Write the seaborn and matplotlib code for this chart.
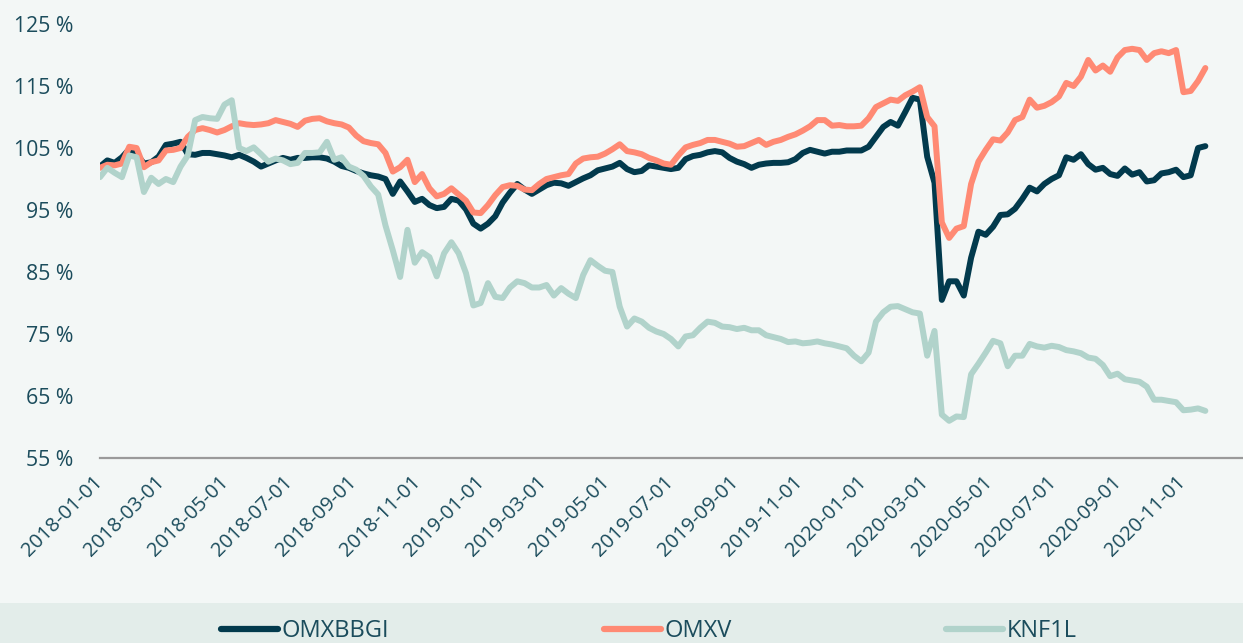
import matplotlib
matplotlib.use("Agg")
import matplotlib.pyplot as plt
from matplotlib.patches import Rectangle
import numpy as np
import pandas as pd
import seaborn as sns

# ---------------- data (weekly readings, index %) ----------------
start_date = "2018-01-01"
n_weeks = 152

omxbbgi = [
    102.0, 103.0, 102.6, 103.5, 104.8, 104.0, 102.5, 102.7, 103.6, 105.5,
    105.7, 106.0, 104.0, 103.9, 104.2, 104.2, 104.0, 103.8, 103.5, 103.9,
    103.4, 102.8, 102.0, 102.5, 103.0, 103.4, 103.1, 103.4, 103.4, 103.5,
    103.5, 103.3, 102.8, 102.1, 101.8, 101.3, 100.9, 100.6, 100.4, 100.0,
    97.6, 99.6, 98.0, 96.3, 96.8, 95.8, 95.3, 95.5, 96.8, 96.5,
    95.1, 92.8, 92.0, 92.8, 94.0, 96.2, 97.8, 99.2, 98.3, 97.6,
    98.3, 99.0, 99.4, 99.3, 98.9, 99.5, 100.1, 100.6, 101.4, 101.7,
    102.0, 102.6, 101.6, 101.1, 101.3, 102.2, 102.0, 101.8, 101.6, 101.8,
    103.2, 103.7, 103.9, 104.3, 104.5, 104.3, 103.4, 102.8, 102.4, 101.8,
    102.3, 102.5, 102.6, 102.6, 102.7, 103.2, 104.2, 104.7, 104.4, 104.1,
    104.4, 104.4, 104.6, 104.6, 104.6, 105.2, 106.8, 108.4, 109.2, 108.6,
    110.8, 113.1, 112.8, 103.6, 99.4, 80.5, 83.5, 83.5, 81.2, 87.3,
    91.5, 91.0, 92.3, 94.2, 94.3, 95.2, 96.8, 98.6, 98.0, 99.2,
    100.0, 100.6, 103.5, 103.1, 104.0, 102.4, 101.5, 101.8, 100.8, 100.5,
    101.7, 100.7, 101.1, 99.6, 99.8, 100.9, 101.1, 101.5, 100.3, 100.6,
    105.0, 105.3,
]

omxv = [
    101.8, 102.3, 102.2, 102.5, 105.2, 105.0, 101.9, 102.7, 103.0, 104.6,
    104.7, 105.0, 106.8, 107.9, 108.2, 107.9, 107.5, 107.9, 108.5, 109.0,
    108.8, 108.7, 108.8, 109.0, 109.5, 109.2, 108.9, 108.4, 109.4, 109.7,
    109.8, 109.3, 109.0, 108.8, 108.3, 107.0, 106.1, 105.8, 105.6, 104.2,
    101.2, 101.9, 103.1, 99.5, 100.8, 98.5, 97.2, 97.6, 98.5, 97.5,
    96.5, 94.6, 94.5, 95.8, 97.4, 98.7, 99.0, 98.9, 98.3, 98.2,
    99.2, 100.0, 100.3, 100.6, 100.8, 102.5, 103.3, 103.5, 103.6, 104.1,
    104.8, 105.6, 104.5, 104.3, 104.0, 103.4, 103.0, 102.5, 102.3, 103.8,
    105.1, 105.5, 105.8, 106.3, 106.3, 106.0, 105.7, 105.2, 105.3, 105.8,
    106.3, 105.5, 106.0, 106.3, 106.8, 107.2, 107.8, 108.5, 109.5, 109.5,
    108.6, 108.7, 108.5, 108.5, 108.6, 109.8, 111.6, 112.2, 112.8, 112.6,
    113.5, 114.1, 114.8, 110.0, 108.5, 93.0, 90.5, 92.0, 92.4, 99.2,
    102.8, 104.7, 106.4, 106.2, 107.5, 109.5, 110.0, 112.8, 111.5, 111.8,
    112.4, 113.3, 115.5, 115.0, 116.5, 119.2, 117.5, 118.3, 117.3, 119.6,
    120.8, 121.0, 120.8, 119.2, 120.3, 120.6, 120.3, 120.8, 114.0, 114.2,
    115.8, 117.9,
]

knf1l = [
    100.3, 101.8, 101.0, 100.3, 103.8, 103.5, 97.9, 100.2, 99.2, 100.0,
    99.5, 102.0, 103.8, 109.5, 110.0, 109.8, 109.7, 112.0, 112.7, 105.0,
    104.5, 105.1, 104.0, 102.8, 103.3, 103.0, 102.4, 102.6, 104.2, 104.2,
    104.3, 106.0, 103.1, 103.5, 102.0, 101.5, 100.5, 98.8, 97.5, 92.5,
    88.5, 84.2, 91.8, 86.5, 88.2, 87.4, 84.3, 88.0, 89.8, 88.0,
    84.8, 79.6, 80.0, 83.2, 81.0, 80.8, 82.5, 83.5, 83.2, 82.5,
    82.5, 82.9, 81.2, 82.4, 81.5, 80.8, 84.5, 86.9, 86.0, 85.2,
    85.0, 79.4, 76.2, 77.5, 77.0, 76.0, 75.4, 75.0, 74.2, 73.0,
    74.6, 74.8, 76.0, 77.0, 76.8, 76.2, 76.1, 75.8, 76.0, 75.6,
    75.6, 74.8, 74.5, 74.2, 73.7, 73.8, 73.5, 73.6, 73.8, 73.5,
    73.3, 73.0, 72.7, 71.5, 70.6, 72.0, 77.0, 78.5, 79.4, 79.5,
    79.0, 78.5, 78.3, 71.5, 75.5, 62.0, 61.0, 61.7, 61.6, 68.5,
    70.2, 72.0, 73.9, 73.5, 69.8, 71.5, 71.5, 73.4, 73.0, 72.8,
    73.1, 72.9, 72.4, 72.2, 71.9, 71.2, 71.0, 70.0, 68.2, 68.6,
    67.7, 67.5, 67.3, 66.5, 64.4, 64.4, 64.2, 64.0, 62.7, 62.8,
    63.0, 62.6,
]

series_names = ["OMXBBGI", "OMXV", "KNF1L"]
colors = ["#023a4d", "#ff8a74", "#b1d3cb"]
y_ticks = [55, 65, 75, 85, 95, 105, 115, 125]
x_tick_dates = pd.date_range("2018-01-01", "2020-11-01", freq="2MS")

dates = pd.date_range(start_date, periods=n_weeks, freq="7D")
df = pd.concat([
    pd.DataFrame({"date": dates, "value": vals, "series": name})
    for name, vals in zip(series_names, [omxbbgi, omxv, knf1l])
], ignore_index=True)

# ---------------- style ----------------
sns.set_theme(style="white")
plt.rcParams["font.family"] = ["Open Sans", "DejaVu Sans"]
bg = "#f3f7f6"
txt = "#1b4c5c"

W, H = 1243, 643
fig = plt.figure(figsize=(W / 100, H / 100), dpi=100, facecolor=bg)
fig.patches.append(Rectangle((0, 0), 1, 40 / H, transform=fig.transFigure,
                             facecolor="#e3edea", edgecolor="none", zorder=0))

ax = fig.add_axes([100 / W, (H - 458) / H, 1143 / W, (458 - 24) / H])
ax.set_facecolor(bg)

sns.lineplot(data=df, x="date", y="value", hue="series", hue_order=series_names,
             palette=colors, linewidth=4.3, estimator=None, sort=False, ax=ax,
             legend=True)
for line in ax.get_lines():
    line.set_solid_joinstyle("round")
    line.set_solid_capstyle("round")

ax.set_ylim(55, 125)
ax.set_xlim(pd.Timestamp("2018-01-01"), pd.Timestamp("2020-12-29"))
ax.set_yticks(y_ticks)
ax.set_yticklabels([f"{v} %" for v in y_ticks])
ax.set_xticks(x_tick_dates)
ax.set_xticklabels([d.strftime("%Y-%m-%d") for d in x_tick_dates])
ax.set_xlabel("")
ax.set_ylabel("")

for s in ["top", "right", "left"]:
    ax.spines[s].set_visible(False)
ax.spines["bottom"].set_color("#9a9a9a")
ax.spines["bottom"].set_linewidth(1.6)

ax.tick_params(axis="y", length=0, pad=19, labelsize=15.3, labelcolor=txt)
ax.tick_params(axis="x", length=0, pad=15, labelsize=14.5, labelcolor=txt)
for lab in ax.get_xticklabels():
    lab.set_rotation(45)
    lab.set_ha("right")
    lab.set_va("center")
    lab.set_rotation_mode("anchor")

handles, labels = ax.get_legend_handles_labels()
ax.get_legend().remove()
for h in handles:
    h.set_linewidth(4.5)
    h.set_solid_capstyle("round")
leg = fig.legend(handles, labels, loc="center", bbox_to_anchor=(0.522, 1 - 631 / H),
                 ncol=3, frameon=False, fontsize=17, handlelength=2.4,
                 handletextpad=0.15, columnspacing=9.1)
for t in leg.get_texts():
    t.set_color(txt)

fig.savefig("out.png", dpi=100, facecolor=bg)
